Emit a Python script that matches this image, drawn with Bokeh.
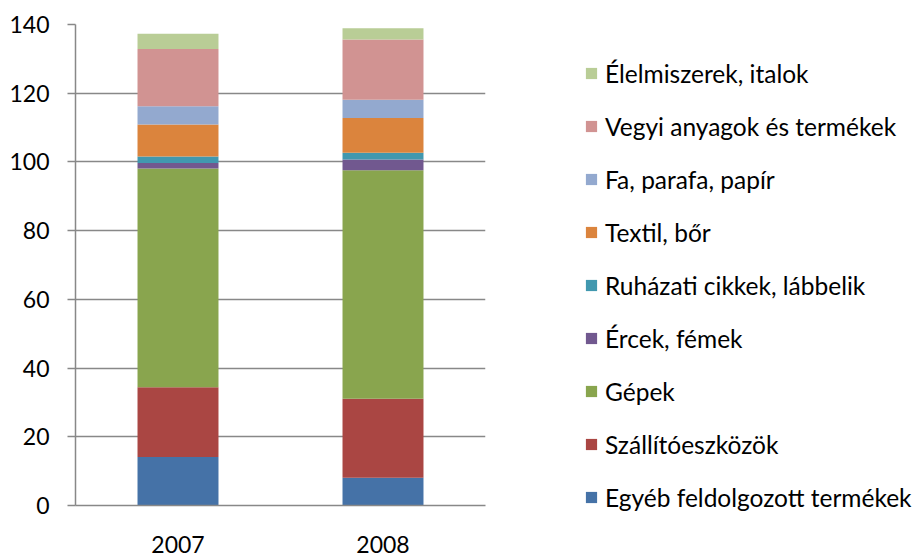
from bokeh.plotting import figure
from bokeh.models import Legend, LegendItem, ColumnDataSource, FactorRange, Range1d, SingleIntervalTicker
from bokeh.embed import file_html
from bokeh.resources import INLINE

years = ["2007", "2008"]
egyeb = [14.1, 8.1]
szallito = [20.3, 23.0]
gepek = [63.7, 66.5]
ercek = [1.6, 3.1]
ruhazati = [1.9, 2.0]
textil = [9.3, 10.1]
fa = [5.3, 5.3]
vegyi = [16.7, 17.5]
elelmiszer = [4.4, 3.3]

names = ["Egyéb feldolgozott termékek", "Szállítóeszközök", "Gépek", "Ércek, fémek",
         "Ruházati cikkek, lábbelik", "Textil, bőr", "Fa, parafa, papír",
         "Vegyi anyagok és termékek", "Élelmiszerek, italok"]
keys = ["egyeb", "szallito", "gepek", "ercek", "ruhazati", "textil", "fa", "vegyi", "elelmiszer"]
colors = ["#4572A7", "#AA4643", "#89A54E", "#71588F", "#4198AF", "#DB843D",
          "#93A9CF", "#D19392", "#B9CD96"]

src = ColumnDataSource(dict(year=years, egyeb=egyeb, szallito=szallito, gepek=gepek,
                            ercek=ercek, ruhazati=ruhazati, textil=textil, fa=fa,
                            vegyi=vegyi, elelmiszer=elelmiszer))

FONT = "Lato"

p = figure(x_range=FactorRange(factors=years, range_padding=0), y_range=Range1d(0, 140),
           frame_width=410, frame_height=481, output_backend="svg", toolbar_location=None,
           min_border_left=75, min_border_right=55, min_border_top=24, min_border_bottom=52)

renderers = p.vbar_stack(keys, x="year", width=0.395, source=src, color=colors,
                         line_color=None)

p.outline_line_color = None
p.xgrid.grid_line_color = None
p.ygrid.grid_line_color = "#888888"
p.ygrid.grid_line_width = 1.5
p.yaxis.ticker = SingleIntervalTicker(interval=20)
p.yaxis.axis_line_color = "#888888"
p.yaxis.axis_line_width = 1.5
p.yaxis.major_tick_line_color = "#888888"
p.yaxis.major_tick_line_width = 1.5
p.yaxis.major_tick_out = 8
p.yaxis.major_tick_in = 0
p.yaxis.minor_tick_line_color = None
p.yaxis.major_label_standoff = 18
p.yaxis.major_label_text_font = FONT
p.yaxis.major_label_text_font_size = "23px"
p.yaxis.major_label_text_color = "#000000"

p.xaxis.axis_line_color = "#888888"
p.xaxis.axis_line_width = 1.5
p.xaxis.major_tick_line_color = None
p.xaxis.minor_tick_line_color = None
p.xaxis.major_tick_out = 0
p.xaxis.major_tick_in = 0
p.xaxis.major_label_standoff = 30
p.xaxis.major_label_text_font = FONT
p.xaxis.major_label_text_font_size = "23px"
p.xaxis.major_label_text_color = "#000000"

items = [LegendItem(label=names[i], renderers=[renderers[i]]) for i in reversed(range(len(names)))]
legend = Legend(items=items, location=(99, -7), orientation="vertical",
                glyph_width=14, glyph_height=14, label_height=30, spacing=23,
                label_standoff=7, padding=0, margin=0,
                border_line_color=None, background_fill_alpha=0,
                label_text_font=FONT, label_text_font_size="24.5px", label_text_color="#000000")
p.add_layout(legend, "right")

open("out.html", "w").write(file_html(p, INLINE))
